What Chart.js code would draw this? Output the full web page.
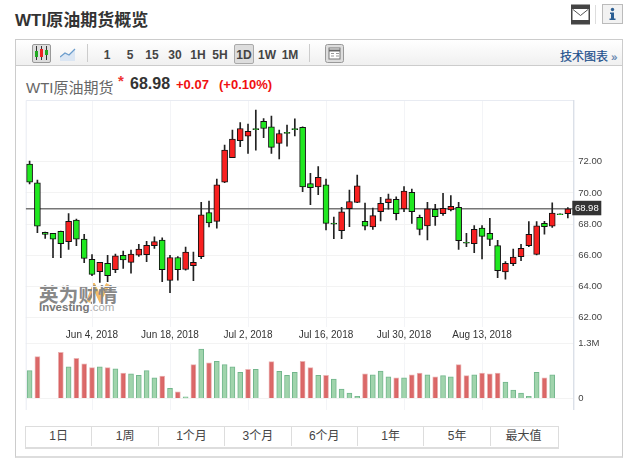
<!DOCTYPE html>
<html><head><meta charset="utf-8">
<script src="https://cdn.jsdelivr.net/npm/chart.js@4"></script>
<style>
html,body{margin:0;padding:0;background:#fff;width:630px;height:466px;overflow:hidden;font-family:"Liberation Sans",Arial,"Noto Sans CJK SC",sans-serif;}
.a{position:absolute;white-space:nowrap;}
#c{position:absolute;left:0;top:0;z-index:2;}
.tf{font-size:12px;font-weight:bold;color:#444;top:48px;transform:translateX(-50%);}
.rg{position:absolute;top:426px;height:20px;line-height:20px;text-align:center;font-size:12px;color:#444;border-right:1px solid #ddd;box-sizing:content-box;}
</style></head><body>
<div class="a" style="left:15px;top:6px;font-size:17px;font-weight:bold;color:#333;">WTI原油期货概览</div>
<svg class="a" style="left:571px;top:4px" width="20" height="21"><rect x="0" y="0.5" width="19" height="20" fill="#444"/><rect x="1.5" y="5" width="16" height="11" fill="#fff"/><path d="M2 5.5 L9.5 11.5 L17 5.5" fill="none" stroke="#555" stroke-width="1"/></svg>
<div class="a" style="left:595px;top:5px;width:1px;height:19px;background:#ddd"></div>
<svg class="a" style="left:602px;top:4px" width="22" height="21"><rect x="0.5" y="0.5" width="20" height="19" fill="#f2f2f2" stroke="#bbb"/><circle cx="10.5" cy="5.5" r="1.7" fill="#2d5f93"/><path d="M8 8.5h4v6h1.5v1.5h-6v-1.5h1.5v-4.5h-1z" fill="#2d5f93"/></svg>
<div class="a" style="left:15px;top:39px;width:606px;height:416px;border:1px solid #ccc;border-bottom:2px solid #ddd;"></div>
<div class="a" style="left:16px;top:40px;width:606px;height:25px;background:linear-gradient(#fff,#f0f0f0);border-bottom:1px solid #ccc;"></div>
<div class="a" style="left:32px;top:44px;width:17px;height:17px;background:#ddd;border:1px solid #999;border-radius:2px;"></div>
<svg class="a" style="left:34px;top:46px" width="15" height="15"><path d="M2.5 0v14M7.5 0v14M12.5 0v14" stroke="#333" stroke-width="1"/><rect x="1" y="5" width="3" height="6" fill="#2a2"/><rect x="6" y="3" width="3" height="8" fill="#e22"/><rect x="11" y="4" width="3" height="5" fill="#2a2"/></svg>
<svg class="a" style="left:60px;top:47px" width="16" height="15"><path d="M0 10L5 6L9 8L15 2V14H0Z" fill="#dbe6f3"/><path d="M0 10L5 6L9 8L15 2" fill="none" stroke="#6a9ccc" stroke-width="1.3"/></svg>
<div class="a" style="left:87px;top:44px;width:1px;height:18px;background:#ccc"></div>
<div class="a tf" style="left:107px">1</div><div class="a tf" style="left:130px">5</div><div class="a tf" style="left:152px">15</div><div class="a tf" style="left:175px">30</div><div class="a tf" style="left:198px">1H</div><div class="a tf" style="left:220px">5H</div>
<div class="a" style="left:234px;top:44px;width:18px;height:18px;background:#ddd;border:1px solid #aaa;border-radius:2px;"></div>
<div class="a tf" style="left:244px">1D</div><div class="a tf" style="left:267px">1W</div><div class="a tf" style="left:290px">1M</div>
<div class="a" style="left:309px;top:44px;width:1px;height:18px;background:#ccc"></div>
<svg class="a" style="left:325px;top:44px" width="20" height="20"><rect x="0.5" y="0.5" width="18" height="18" rx="2" fill="#ddd" stroke="#999"/><rect x="4" y="4" width="11" height="11" fill="#fff" stroke="#777"/><path d="M4 6.5h11" stroke="#666" stroke-width="2"/><path d="M6 9.5h3M6 12h3M11 9.5h3M11 12h3" stroke="#999"/></svg>
<div class="a" style="left:560px;top:47px;font-size:12px;color:#1b4f8c;-webkit-text-stroke:0.2px #1b4f8c;">技术图表 <span style="color:#6a8db5;font-size:11px">»</span></div>
<div class="a" style="left:26px;top:76px;font-size:15px;color:#666;">WTI原油期货</div>
<div class="a" style="left:118px;top:72px;font-size:15px;font-weight:bold;color:#e33;">*</div>
<div class="a" style="left:130px;top:75px;font-size:16px;font-weight:bold;color:#333;">68.98</div>
<div class="a" style="left:176px;top:77px;font-size:13px;font-weight:bold;color:#f01010;">+0.07</div>
<div class="a" style="left:219px;top:77px;font-size:13px;font-weight:bold;color:#f01010;">(+0.10%)</div>
<svg class="a" style="left:86px;top:283px;z-index:0" width="24" height="21"><path d="M2 19L8 3L14 16L22 1" fill="none" stroke="#f3bb68" stroke-width="4"/></svg>
<div class="a" style="left:39px;top:279px;font-size:19.5px;font-weight:bold;color:#888;letter-spacing:0.2px;z-index:1;">英为财情</div>
<div class="a" style="left:39px;top:301px;font-size:11.5px;font-weight:bold;color:#777;z-index:1;">Investing<span style="color:#aaa;font-weight:normal">.com</span></div>
<canvas id="c" width="630" height="466"></canvas>
<div class="a" style="left:25px;top:426px;width:532px;height:20px;border:1px solid #ddd;border-bottom-width:2px;"></div>
<div id="rng"></div>
<script>
const dates=["May 23, 2018","May 24, 2018","May 25, 2018","May 28, 2018","May 29, 2018","May 30, 2018","May 31, 2018","Jun 1, 2018","Jun 4, 2018","Jun 5, 2018","Jun 6, 2018","Jun 7, 2018","Jun 8, 2018","Jun 11, 2018","Jun 12, 2018","Jun 13, 2018","Jun 14, 2018","Jun 15, 2018","Jun 18, 2018","Jun 19, 2018","Jun 20, 2018","Jun 21, 2018","Jun 22, 2018","Jun 25, 2018","Jun 26, 2018","Jun 27, 2018","Jun 28, 2018","Jun 29, 2018","Jul 2, 2018","Jul 3, 2018","Jul 4, 2018","Jul 5, 2018","Jul 6, 2018","Jul 9, 2018","Jul 10, 2018","Jul 11, 2018","Jul 12, 2018","Jul 13, 2018","Jul 16, 2018","Jul 17, 2018","Jul 18, 2018","Jul 19, 2018","Jul 20, 2018","Jul 23, 2018","Jul 24, 2018","Jul 25, 2018","Jul 26, 2018","Jul 27, 2018","Jul 30, 2018","Jul 31, 2018","Aug 1, 2018","Aug 2, 2018","Aug 3, 2018","Aug 6, 2018","Aug 7, 2018","Aug 8, 2018","Aug 9, 2018","Aug 10, 2018","Aug 13, 2018","Aug 14, 2018","Aug 15, 2018","Aug 16, 2018","Aug 17, 2018","Aug 20, 2018","Aug 21, 2018","Aug 22, 2018","Aug 23, 2018","Aug 24, 2018","Aug 27, 2018","Aug 28, 2018"];
const opens=[71.85,70.65,67.47,67.40,67.53,66.87,68.26,67.04,65.74,64.95,65.48,65.07,65.99,65.54,66.01,66.04,66.61,66.97,64.39,65.86,65.09,65.33,65.91,68.73,68.17,70.69,72.25,73.34,73.64,74.13,74.58,74.24,73.17,73.88,74.13,74.20,70.59,70.39,70.52,68.07,67.57,68.98,69.39,68.17,67.81,68.79,69.37,69.58,68.97,70.04,68.43,67.88,68.95,68.67,68.90,69.07,66.83,66.74,67.75,67.41,66.62,64.93,65.46,65.91,66.62,66.06,68.05,67.86,68.65,68.67];
const closes=[70.69,67.87,67.34,67.04,66.74,68.17,67.04,65.80,64.77,65.54,64.69,65.97,65.71,66.08,66.40,66.63,66.87,65.07,65.86,65.07,66.21,65.54,68.60,68.07,70.52,72.74,73.45,74.13,73.94,74.05,74.13,72.92,73.81,73.81,74.05,70.39,70.33,70.99,68.04,68.00,68.79,69.45,70.46,67.87,68.54,69.33,69.62,68.66,70.12,68.80,67.66,68.97,68.48,69.01,69.14,66.94,66.77,67.66,67.21,67.02,65.01,65.48,65.89,66.45,67.34,67.88,67.83,68.71,68.60,68.98];
const highs=[72.04,70.82,67.49,67.40,67.55,68.68,68.32,67.34,66.04,65.54,65.99,66.08,66.27,66.33,66.70,66.89,67.19,67.12,65.99,65.91,66.53,66.21,69.39,69.48,70.89,73.07,74.03,74.50,74.41,75.31,74.77,74.92,74.03,74.35,74.75,74.24,71.25,71.68,70.89,68.45,69.07,70.18,71.14,69.35,69.03,69.71,69.92,69.75,70.40,70.25,68.58,69.39,69.27,69.97,69.82,69.39,67.41,67.90,67.90,68.37,66.96,65.59,66.40,66.70,68.16,68.16,68.18,69.37,68.65,69.05];
const lows=[70.57,67.45,67.08,65.84,65.84,66.38,66.61,65.52,64.69,64.26,64.30,64.88,65.16,64.86,65.93,65.59,66.44,64.30,63.60,64.41,65.05,64.37,65.78,67.81,67.74,70.65,72.25,72.96,72.53,72.74,73.54,72.53,72.17,73.00,73.66,70.07,69.24,69.88,67.62,67.06,67.06,67.83,69.37,67.62,67.66,68.21,68.96,68.26,68.80,68.05,67.30,66.98,67.92,68.56,68.84,66.38,66.55,66.17,65.76,66.62,64.57,64.46,65.33,65.65,66.55,66.02,67.36,67.79,68.60,68.39];
const volumes=[0.66,0.99,null,null,1.09,0.75,0.95,0.82,0.73,0.75,0.73,0.70,0.60,0.58,0.55,0.66,0.49,0.53,0.24,0.16,0.04,0.80,1.17,0.84,0.88,0.80,0.75,0.62,0.69,0.69,null,0.87,0.64,0.55,0.62,0.88,0.73,0.55,0.55,0.46,0.22,0.13,0.05,0.58,0.56,0.65,0.51,0.49,0.49,0.56,0.60,0.56,0.51,0.54,0.51,0.80,0.54,0.56,0.60,0.58,0.60,0.39,0.20,0.13,0.05,0.62,0.49,0.56,null,null];
const volumeSides=["g","r","","","r","g","r","r","r","g","r","g","r","g","g","g","g","r","g","r","g","r","g","r","g","g","g","g","r","g","","r","g","g","g","r","r","g","r","g","g","g","g","r","g","g","g","r","g","r","r","g","r","g","g","r","r","g","r","r","r","g","g","g","g","g","r","g","",""];
const priceTicks=[62,64,66,68,70,72];
const volumeTicks=[0,1.3];
const dateTickIndexes=[8,18,28,38,48,58];
const lastPrice=68.98;
const rangeLabels=["1日","1周","1个月","3个月","6个月","1年","5年","最大值"];

const rng=document.getElementById('rng');
rangeLabels.forEach((t,i)=>{const d=document.createElement('div');d.className='rg';d.textContent=t;d.style.left=(26+i*66.4)+'px';d.style.width=(65.4)+'px';if(i==7)d.style.borderRight='0';rng.appendChild(d);});

const UP='#f82020',DOWN='#20e820';
const RED_V='rgba(214,84,84,0.88)',RED_VB='rgba(232,170,170,0.9)',GRN_V='rgba(160,212,172,1)',GRN_VB='rgba(114,182,140,1)';
const xy=a=>a.map((v,i)=>({x:i,y:v}));

const panelPlugin={id:'panel',
 beforeDraw(ch){ch.scales.yVol.right=ch.width;},
 beforeDatasetsDraw(ch){const {ctx,chartArea:a,scales:s}=ch;
  const y1=s.yPrice.getPixelForValue(61.4),y2=s.yVol.getPixelForValue(1.3);
  ctx.save();ctx.fillStyle='#fff';ctx.fillRect(a.left+1,y1,a.right-a.left-2,y2-y1-1);
  ctx.strokeStyle='#e8ebf2';ctx.lineWidth=1;
  ctx.beginPath();ctx.moveTo(a.left+.5,a.bottom);ctx.lineTo(a.left+.5,a.top+.5);ctx.lineTo(a.right,a.top+.5);ctx.stroke();
  ctx.strokeStyle='#ccd3df';ctx.beginPath();ctx.moveTo(a.right+.5,a.top);ctx.lineTo(a.right+.5,a.bottom);ctx.stroke();
  ctx.restore();},
 afterDraw(ch){const {ctx,chartArea:a,scales:s}=ch;const y=s.yPrice.getPixelForValue(lastPrice);
  ctx.save();ctx.fillStyle='#333';ctx.fillRect(a.right-1,y-8,29,14.5);
  ctx.fillStyle='#fff';ctx.font='9.5px "Liberation Sans",Arial';ctx.textAlign='center';ctx.textBaseline='middle';
  ctx.fillText(lastPrice.toFixed(2),a.right+13.5,y-0.5);ctx.restore();}
};

new Chart(document.getElementById('c'),{
 type:'bar',
 plugins:[panelPlugin],
 data:{datasets:[
  {type:'line',label:'last',data:[{x:-0.5,y:lastPrice},{x:69.7,y:lastPrice}],yAxisID:'yPrice',borderColor:'#777',borderWidth:1.5,pointRadius:0,order:3},
  {label:'body',data:opens.map((o,i)=>({x:i,y:[o,closes[i]]})),yAxisID:'yPrice',grouped:false,barThickness:6,
   backgroundColor:c=>closes[c.dataIndex]>=opens[c.dataIndex]?UP:DOWN,borderColor:'#111',borderWidth:1,borderSkipped:false,order:1},
  {label:'wick',data:highs.map((h,i)=>({x:i,y:[lows[i],h]})),yAxisID:'yPrice',grouped:false,barThickness:1,
   backgroundColor:'#222',borderWidth:0,order:2},
  {label:'volume',data:xy(volumes),yAxisID:'yVol',grouped:false,barThickness:5,
   backgroundColor:c=>volumeSides[c.dataIndex]==='r'?RED_V:GRN_V,
   borderColor:c=>volumeSides[c.dataIndex]==='r'?RED_VB:GRN_VB,borderWidth:1,borderSkipped:'bottom',order:4}
 ]},
 options:{responsive:false,animation:false,events:[],
  layout:{padding:{left:25.7,top:100,right:0,bottom:56}},
  plugins:{legend:{display:false},tooltip:{enabled:false}},
  scales:{
   x:{type:'linear',offset:false,min:-0.5,max:69.7,position:{yPrice:61.25},
    afterBuildTicks(s){s.ticks=dateTickIndexes.map(v=>({value:v}));},
    ticks:{z:1,callback:v=>dates[v],autoSkip:false,maxRotation:0,color:'#333',font:{size:10,family:'"Liberation Sans",Arial'},padding:0},
    grid:{color:'#f3f4f7',drawTicks:false,offset:false},border:{display:false}},
   yVol:{position:'right',weight:-5,min:-0.272,max:7.055,afterFit(s){s.width=0;},
    afterBuildTicks(s){s.ticks=volumeTicks.map(v=>({value:v}));},
    ticks:{callback:v=>v===0?'0':v+'M',color:'#444',font:{size:9.5,family:'"Liberation Sans",Arial'},padding:5,autoSkip:false},
    grid:{color:'#f3f3f3',drawTicks:false},border:{display:false}},
   yPrice:{position:'right',weight:5,min:56.08,max:75.955,afterFit(s){s.width=56.7;},
    afterBuildTicks(s){s.ticks=priceTicks.map(v=>({value:v}));},
    ticks:{callback:v=>v.toFixed(2),color:'#444',font:{size:9.5,family:'"Liberation Sans",Arial'},padding:5,autoSkip:false},
    grid:{color:'#f3f3f3',drawTicks:false},border:{display:false}}
  }}
});
</script>
</body></html>
